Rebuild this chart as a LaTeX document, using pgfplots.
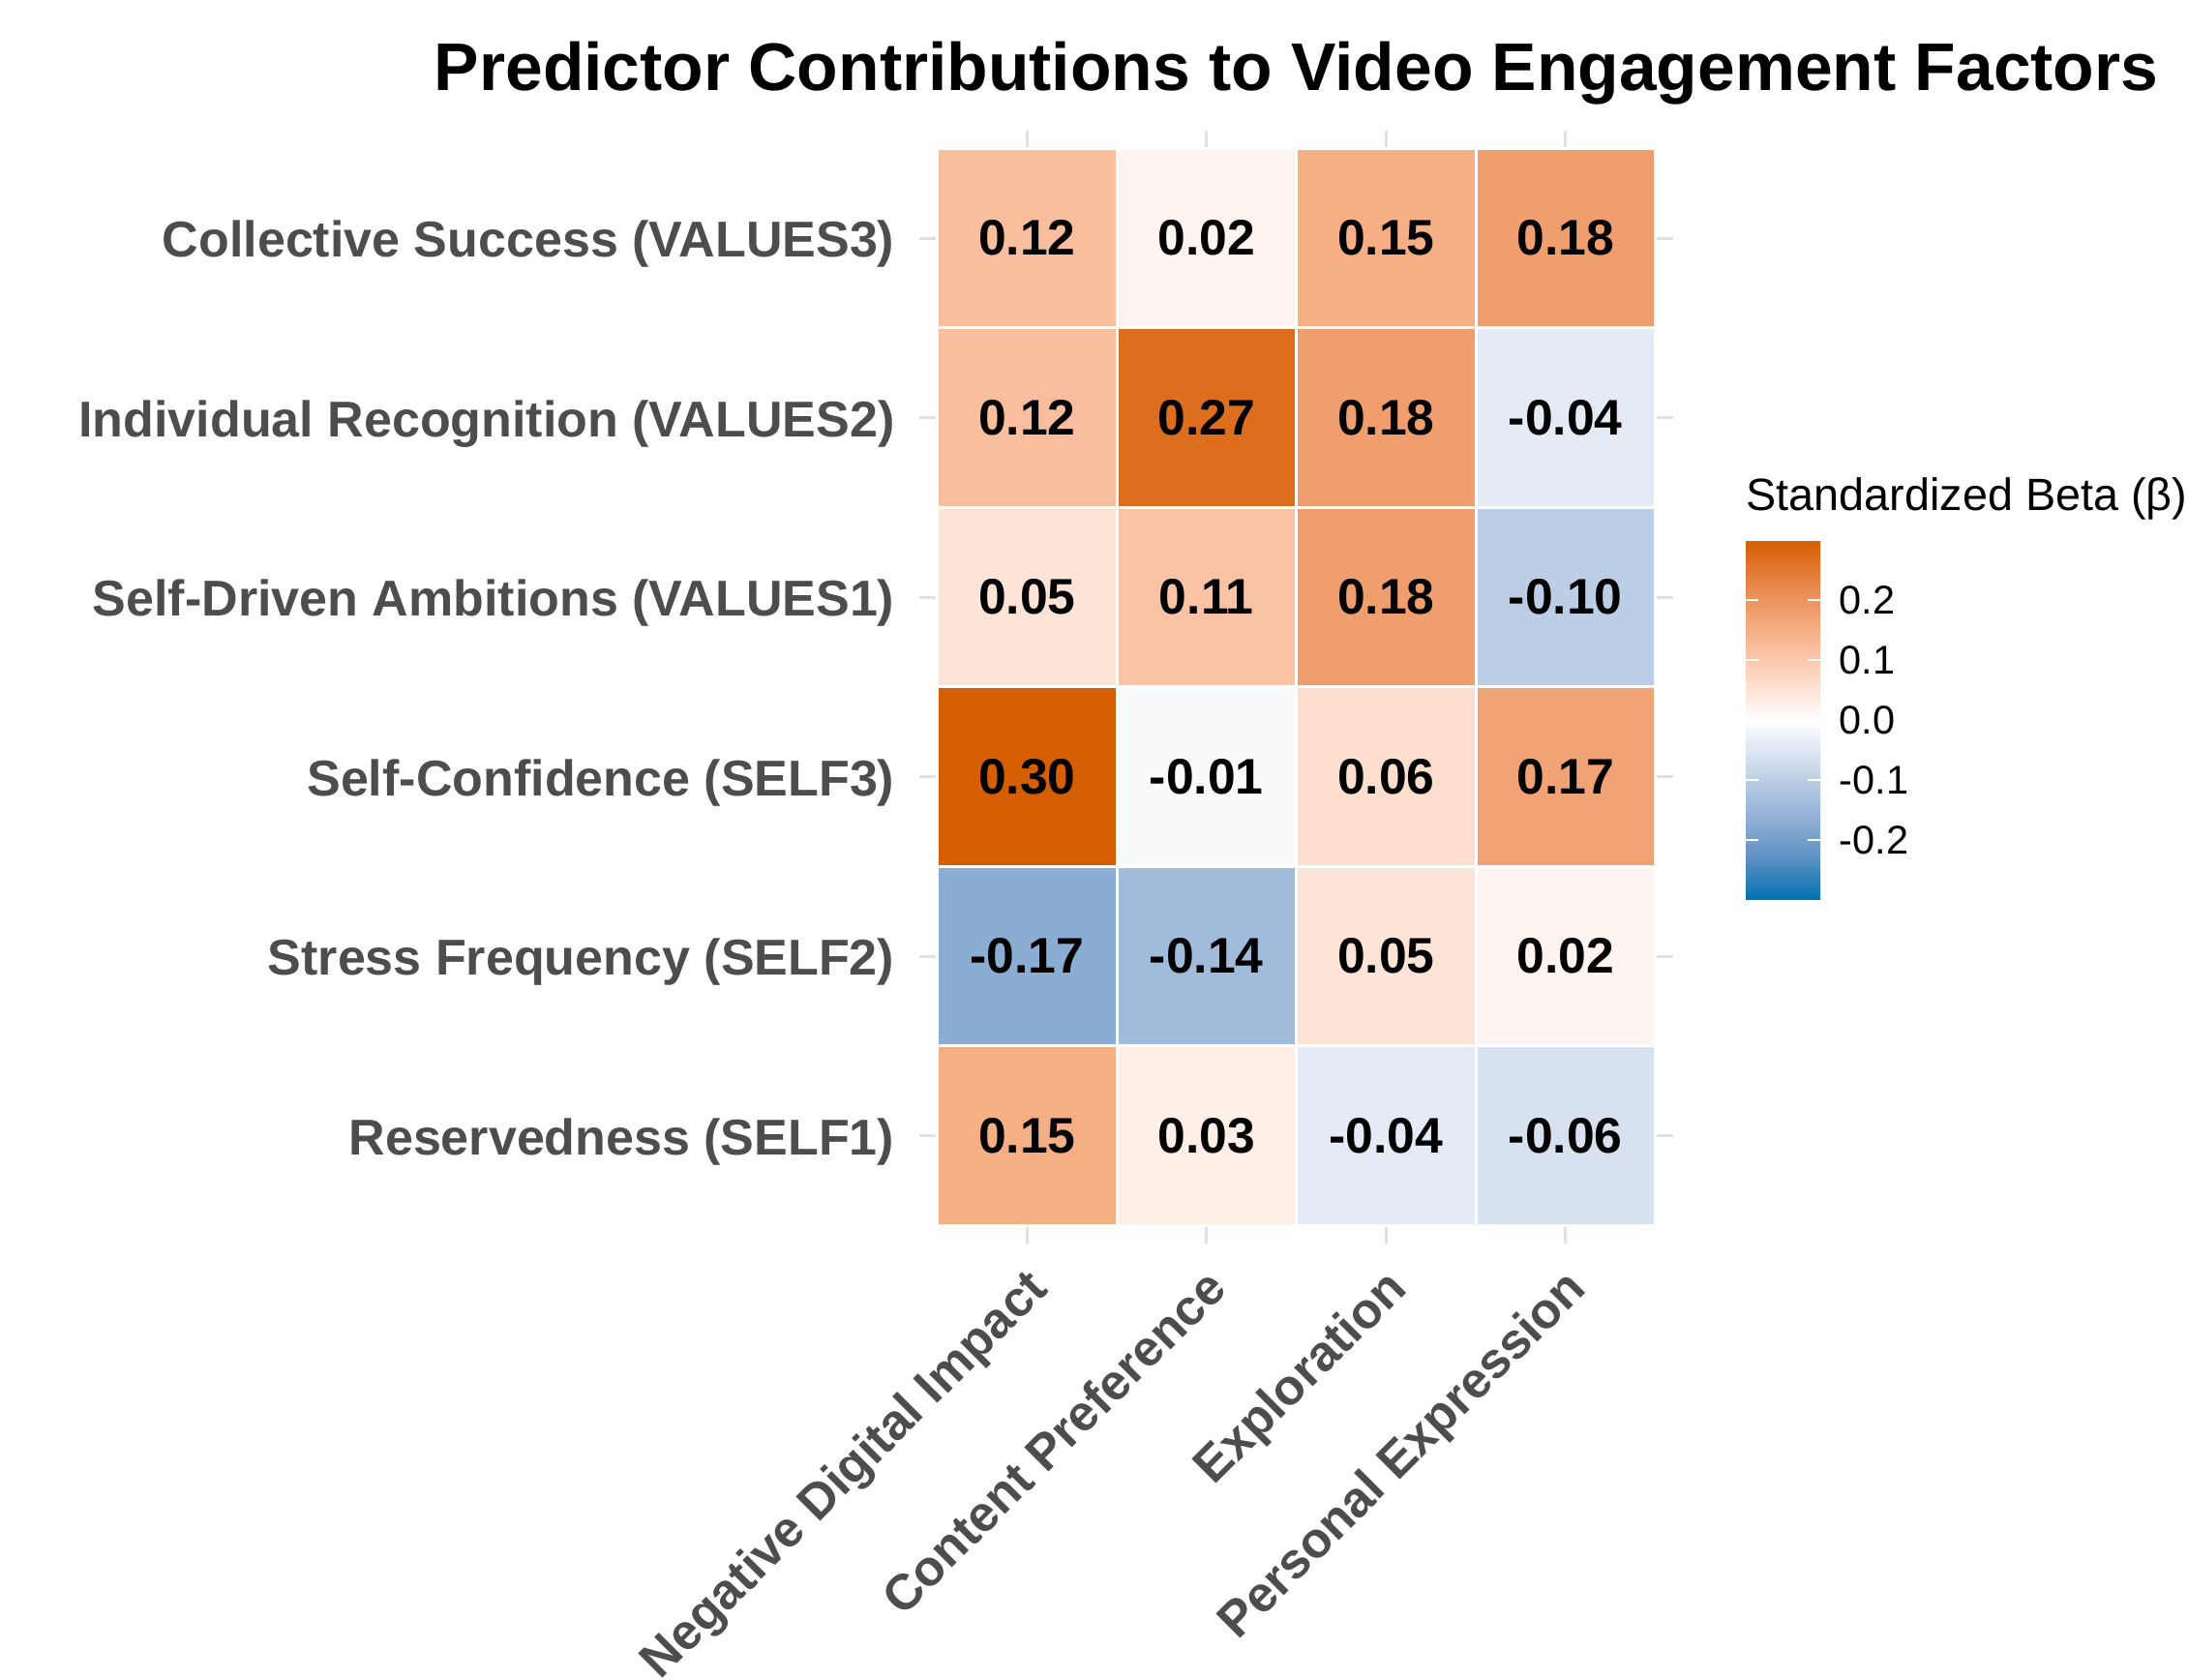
\documentclass[border=0pt]{standalone}
\usepackage{fontspec}
\setmainfont{Liberation Sans}
\usepackage{pgfplots}
\pgfplotsset{compat=1.18}
\usepackage{pgfplotstable}
\definecolor{axtext}{HTML}{4D4D4D}
\definecolor{gridc}{HTML}{E0E0E0}

\pgfplotstableread{
x y v
0 5 0.12
1 5 0.02
2 5 0.15
3 5 0.18
0 4 0.12
1 4 0.27
2 4 0.18
3 4 -0.04
0 3 0.05
1 3 0.11
2 3 0.18
3 3 -0.10
0 2 0.30
1 2 -0.01
2 2 0.06
3 2 0.17
0 1 -0.17
1 1 -0.14
2 1 0.05
3 1 0.02
0 0 0.15
1 0 0.03
2 0 -0.04
3 0 -0.06
}\betatab

\begin{document}
\begin{tikzpicture}
\begin{axis}[
  at={(0,0)}, anchor=south west,
  scale only axis, width=7.791cm, height=11.501cm,
  xmin=-0.6, xmax=3.6, ymin=-0.6, ymax=5.6,
  xtick={0,1,2,3},
  xticklabels={Negative Digital Impact, Content Preference, Exploration, Personal Expression},
  ytick={0,1,2,3,4,5},
  yticklabels={Reservedness (SELF1), Stress Frequency (SELF2), Self-Confidence (SELF3), Self-Driven Ambitions (VALUES1), Individual Recognition (VALUES2), Collective Success (VALUES3)},
  major tick length=0pt,
  axis line style={draw=none},
  xmajorgrids, ymajorgrids,
  grid style={draw=gridc, line width=0.75pt},
  yticklabel style={font=\fontsize{14.8}{17}\selectfont\bfseries, text=axtext, anchor=east, inner sep=0pt, xshift=-0.25cm, yshift=-0.06cm},
  xticklabel style={font=\fontsize{14.7}{17}\selectfont\bfseries, text=axtext, inner sep=0pt, xshift=-0.03cm, yshift=-0.22cm, rotate=45, anchor=north east},
  title={Predictor Contributions to Video Engagement Factors},
  title style={at={(0.5,1)}, anchor=base, yshift=0.205cm, inner sep=0pt, font=\fontsize{19.8}{23}\selectfont\bfseries},
  colormap={betamap}{rgb255(0cm)=(0,114,178); rgb255(1cm)=(99,147,197); rgb255(2cm)=(154,182,217); rgb255(3cm)=(205,218,236); rgb255(4cm)=(255,255,255); rgb255(5cm)=(254,214,193); rgb255(6cm)=(246,174,133); rgb255(7cm)=(232,134,75); rgb255(8cm)=(213,94,0)},
  point meta min=-0.3, point meta max=0.3,
  colorbar,
  colorbar/width=0.77cm,
  colorbar style={
    at={(parent axis.south east)}, anchor=south west, xshift=0.45cm, yshift=3.55cm,
    scale only axis, width=0.77cm, height=3.72cm,
    ytick={-0.2,-0.1,0,0.1,0.2},
    axis line style={draw=none},
    axis on top,
    major tick length=0.77cm, tick align=inside, yticklabel pos=right,
    tick style={white, line width=0.8pt, dash pattern=on 0.13cm off 0.51cm on 0.13cm off 0.1cm},
    yticklabel style={font=\fontsize{11.8}{14}\selectfont, text=black, anchor=west, inner sep=0pt, xshift=0.19cm,
      /pgf/number format/.cd, fixed, fixed zerofill, precision=1, assume math mode=true},
    title={Standardized Beta (β)},
    title style={at={(0,1)}, anchor=base west, yshift=0.09cm, inner sep=0pt, font=\fontsize{13.3}{16}\selectfont},
  },
]
\addplot[scatter, only marks, mark=square*, mark size=0.9275cm,
  scatter src=explicit,
  scatter/use mapped color={draw=white, fill=mapped color, line width=0.03cm},
] table[x=x, y=y, meta=v] {\betatab};
\addplot[only marks, mark=*, mark size=0pt, mark options={draw=none, fill=none},
  point meta=explicit,
  nodes near coords={\pgfmathprintnumber[fixed, fixed zerofill, precision=2, assume math mode=true]{\pgfplotspointmeta}},
  every node near coord/.append style={anchor=center, text=black, font=\fontsize{14.7}{17}\selectfont\bfseries, inner sep=0pt},
] table[x=x, y=y, meta=v] {\betatab};
\end{axis}
\pgfresetboundingbox
\path[use as bounding box] (-9.50,-4.51) rectangle (13.11,12.85);
\end{tikzpicture}
\end{document}
